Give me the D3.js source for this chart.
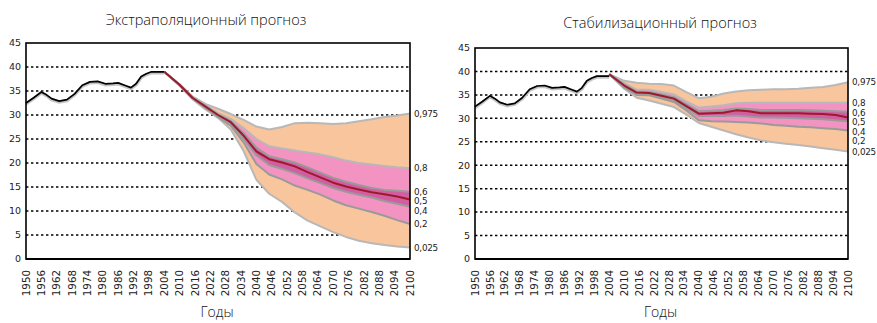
<!DOCTYPE html>
<html>
<head>
<meta charset="utf-8">
<script src="https://cdn.jsdelivr.net/npm/d3@7"></script>
<style>
  body { margin: 0; background: #fff; }
  svg { display: block; }
</style>
</head>
<body>
<svg id="chart" width="877" height="323"></svg>
<script>
// Observed median age, 1950–2003
const histYears = [1950, 1953, 1956, 1958, 1960, 1963, 1966, 1969, 1972, 1975, 1978, 1981, 1984, 1986, 1989, 1991, 1993, 1995, 1997, 1999, 2002, 2004];
const histValues = [32.5, 33.6, 34.8, 34.2, 33.4, 32.9, 33.2, 34.4, 36.2, 36.9, 37.0, 36.5, 36.6, 36.7, 36.1, 35.7, 36.5, 38.0, 38.6, 39.0, 39.0, 39.0];

// Forecast years
const fcYears = [2004, 2010, 2015, 2020, 2025, 2030, 2035, 2040, 2045, 2050, 2055, 2060, 2065, 2070, 2075, 2080, 2085, 2090, 2095, 2100];

// Extrapolation forecast quantiles
const extQ975 = [39.0, 36.4, 33.9, 32.3, 31.3, 30.2, 29.0, 27.6, 27.0, 27.5, 28.3, 28.4, 28.3, 28.1, 28.3, 28.7, 29.1, 29.6, 29.9, 30.3];
const extQ80  = [39.0, 36.3, 33.7, 32.0, 30.4, 29.2, 27.3, 25.0, 23.5, 23.0, 22.6, 22.2, 21.8, 21.2, 20.5, 20.0, 19.7, 19.4, 19.1, 18.9];
const extQ60  = [39.0, 36.3, 33.6, 31.9, 30.1, 28.7, 26.2, 23.2, 21.4, 20.8, 20.1, 19.1, 18.0, 16.9, 16.1, 15.4, 14.8, 14.4, 14.2, 14.0];
const extQ50  = [39.0, 36.3, 33.6, 31.8, 30.0, 28.5, 25.7, 22.4, 20.8, 20.1, 19.3, 18.1, 17.0, 15.9, 15.1, 14.5, 13.9, 13.5, 13.0, 12.4];
const extQ40  = [39.0, 36.2, 33.6, 31.7, 29.9, 28.3, 25.1, 21.6, 19.6, 18.8, 17.9, 16.8, 15.8, 14.8, 14.0, 13.4, 12.8, 12.1, 11.5, 10.9];
const extQ20  = [39.0, 36.2, 33.5, 31.5, 29.6, 27.8, 24.3, 19.8, 17.6, 16.6, 15.3, 14.4, 13.4, 12.2, 11.2, 10.5, 9.8, 9.0, 8.1, 7.3];
const extQ025 = [39.0, 36.1, 33.3, 31.2, 29.4, 27.0, 22.5, 16.5, 13.6, 11.9, 9.7, 8.0, 6.8, 5.6, 4.6, 3.8, 3.3, 2.9, 2.6, 2.4];

// Stabilisation forecast quantiles
const stbQ975 = [39.4, 38.0, 37.6, 37.4, 37.3, 37.0, 35.6, 34.3, 34.6, 35.3, 35.7, 36.0, 36.1, 36.2, 36.2, 36.3, 36.5, 36.7, 37.1, 37.7];
const stbQ80  = [39.4, 37.5, 36.1, 36.1, 35.6, 35.1, 33.6, 32.3, 32.5, 32.8, 33.2, 33.3, 33.3, 33.3, 33.3, 33.3, 33.3, 33.3, 33.3, 33.3];
const stbQ60  = [39.4, 37.2, 35.7, 35.6, 35.1, 34.5, 33.0, 31.5, 31.6, 31.8, 32.1, 32.0, 31.8, 31.8, 31.8, 31.8, 31.7, 31.6, 31.5, 31.4];
const stbQ50  = [39.4, 37.0, 35.5, 35.4, 34.8, 34.2, 32.6, 31.0, 31.1, 31.2, 31.7, 31.5, 31.1, 31.1, 31.1, 31.1, 31.0, 30.9, 30.7, 30.2];
const stbQ40  = [39.4, 36.8, 35.3, 35.2, 34.5, 33.9, 32.2, 30.5, 30.5, 30.5, 30.6, 30.4, 30.2, 30.2, 30.1, 30.0, 29.9, 29.8, 29.6, 29.4];
const stbQ20  = [39.4, 36.6, 35.0, 34.9, 34.2, 33.5, 31.7, 29.6, 29.4, 29.3, 29.2, 29.1, 28.9, 28.6, 28.4, 28.2, 28.1, 27.9, 27.7, 27.4];
const stbQ025 = [39.4, 36.3, 34.4, 33.8, 33.1, 32.4, 30.8, 29.0, 28.2, 27.4, 26.6, 25.9, 25.3, 24.9, 24.6, 24.3, 24.0, 23.6, 23.3, 22.9];

// Axis ticks and labels
const yearTicks = [1950, 1956, 1962, 1968, 1974, 1980, 1986, 1992, 1998, 2004, 2010, 2016, 2022, 2028, 2034, 2040, 2046, 2052, 2058, 2064, 2070, 2076, 2082, 2088, 2094, 2100];
const valueTicks = [0, 5, 10, 15, 20, 25, 30, 35, 40, 45];
const gridValues = [5, 10, 15, 20, 25, 30, 35, 40];
const quantileNames = ["0,975", "0,8", "0,6", "0,5", "0,4", "0,2", "0,025"];
const titles = ["Экстраполяционный прогноз", "Стабилизационный прогноз"];
const xAxisTitle = "Годы";

const svg = d3.select("#chart");
const font = "'DejaVu Sans', sans-serif";
const titleFont = "'Open Sans', 'DejaVu Sans', sans-serif";

const panels = [
  { title: titles[0], left: 26, right: 410, top: 43, bottom: 259, titleX: 206, titleY: 25,
    q: [extQ975, extQ80, extQ60, extQ50, extQ40, extQ20, extQ025] },
  { title: titles[1], left: 475, right: 848, top: 48, bottom: 259, titleX: 660, titleY: 28,
    q: [stbQ975, stbQ80, stbQ60, stbQ50, stbQ40, stbQ20, stbQ025] }
];

function rows(series) {
  return fcYears.map((yr, i) => ({ year: yr, v: series.map(s => s[i]) }));
}

panels.forEach(p => {
  const g = svg.append("g");
  const x = d3.scaleLinear().domain([1950, 2100]).range([p.left, p.right]);
  const y = d3.scaleLinear().domain([0, 45]).range([p.bottom, p.top]);
  const data = rows(p.q);
  // index: 0=0.975 1=0.8 2=0.6 3=0.5 4=0.4 5=0.2 6=0.025

  // dotted grid
  g.selectAll("line.grid").data(gridValues).join("line")
    .attr("x1", p.left).attr("x2", p.right)
    .attr("y1", d => y(d)).attr("y2", d => y(d))
    .attr("stroke", "#000").attr("stroke-width", 1.5)
    .attr("stroke-dasharray", "2.4,2.6");

  const band = (hi, lo, color) => {
    g.append("path").datum(data)
      .attr("fill", color)
      .attr("d", d3.area().x(d => x(d.year)).y0(d => y(d.v[lo])).y1(d => y(d.v[hi])));
  };
  band(0, 6, "#f9c59c");
  band(1, 5, "#f293c2");
  band(2, 4, "#d35da1");

  const line = (k, color, w) => {
    g.append("path").datum(data)
      .attr("fill", "none").attr("stroke", color).attr("stroke-width", w)
      .attr("stroke-linejoin", "round")
      .attr("d", d3.line().x(d => x(d.year)).y(d => y(d.v[k])));
  };
  line(0, "#b8b8b8", 2);
  line(6, "#b8b8b8", 2);
  line(1, "#b8b8b8", 2);
  line(5, "#9a9a9a", 2);
  line(2, "#9a9a9a", 2);
  line(4, "#9a9a9a", 2);
  line(3, "#9c1a2c", 2);

  // history
  const hist = histYears.map((yr, i) => ({ year: yr, v: histValues[i] }));
  const hl = d3.line().x(d => x(d.year)).y(d => y(d.v));
  g.append("path").datum(hist).attr("fill", "none").attr("stroke", "#c4c4c4")
    .attr("stroke-width", 3.2).attr("transform", "translate(0,1)").attr("d", hl);
  g.append("path").datum(hist).attr("fill", "none").attr("stroke", "#000")
    .attr("stroke-width", 1.7).attr("stroke-linejoin", "round").attr("d", hl);

  // frame
  g.append("rect").attr("x", p.left).attr("y", p.top)
    .attr("width", p.right - p.left).attr("height", p.bottom - p.top)
    .attr("fill", "none").attr("stroke", "#000").attr("stroke-width", 1.6);
  g.append("line").attr("x1", p.left).attr("x2", p.right)
    .attr("y1", p.bottom).attr("y2", p.bottom).attr("stroke", "#000").attr("stroke-width", 2.2);

  // y tick labels
  g.selectAll("text.yl").data(valueTicks).join("text")
    .attr("x", p.left - 5).attr("y", d => y(d)).attr("dy", "0.35em")
    .attr("text-anchor", "end").attr("font-family", font).attr("font-size", 9.5)
    .attr("fill", "#222").text(d => d);

  // year labels
  g.selectAll("text.xl").data(yearTicks).join("text")
    .attr("transform", d => `translate(${x(d)},270) rotate(-90)`)
    .attr("dy", "0.35em").attr("text-anchor", "end")
    .attr("font-family", font).attr("font-size", 10.3).attr("fill", "#222")
    .text(d => d);

  // quantile labels at line ends, spread to avoid overlap
  const last = data[data.length - 1].v;
  let prev = -Infinity;
  const labelY = last.map(v => y(v)).map(py => { const yy = Math.max(py, prev + 9.6); prev = yy; return yy; });
  quantileNames.forEach((name, i) => {
    g.append("text").attr("x", p.right + 4).attr("y", labelY[i]).attr("dy", "0.35em")
      .attr("font-family", font).attr("font-size", 8.8).attr("letter-spacing", -0.25)
      .attr("fill", "#222").text(name);
  });

  // titles
  g.append("text").attr("x", p.titleX).attr("y", p.titleY).attr("text-anchor", "middle")
    .attr("font-family", titleFont).attr("font-weight", 300).attr("font-size", 14.5)
    .attr("fill", "#111").text(p.title);
  g.append("text").attr("x", (p.left + p.right) / 2 - 1).attr("y", 317).attr("text-anchor", "middle")
    .attr("font-family", titleFont).attr("font-weight", 300).attr("font-size", 14)
    .attr("fill", "#111").text(xAxisTitle);
});
</script>
</body>
</html>
